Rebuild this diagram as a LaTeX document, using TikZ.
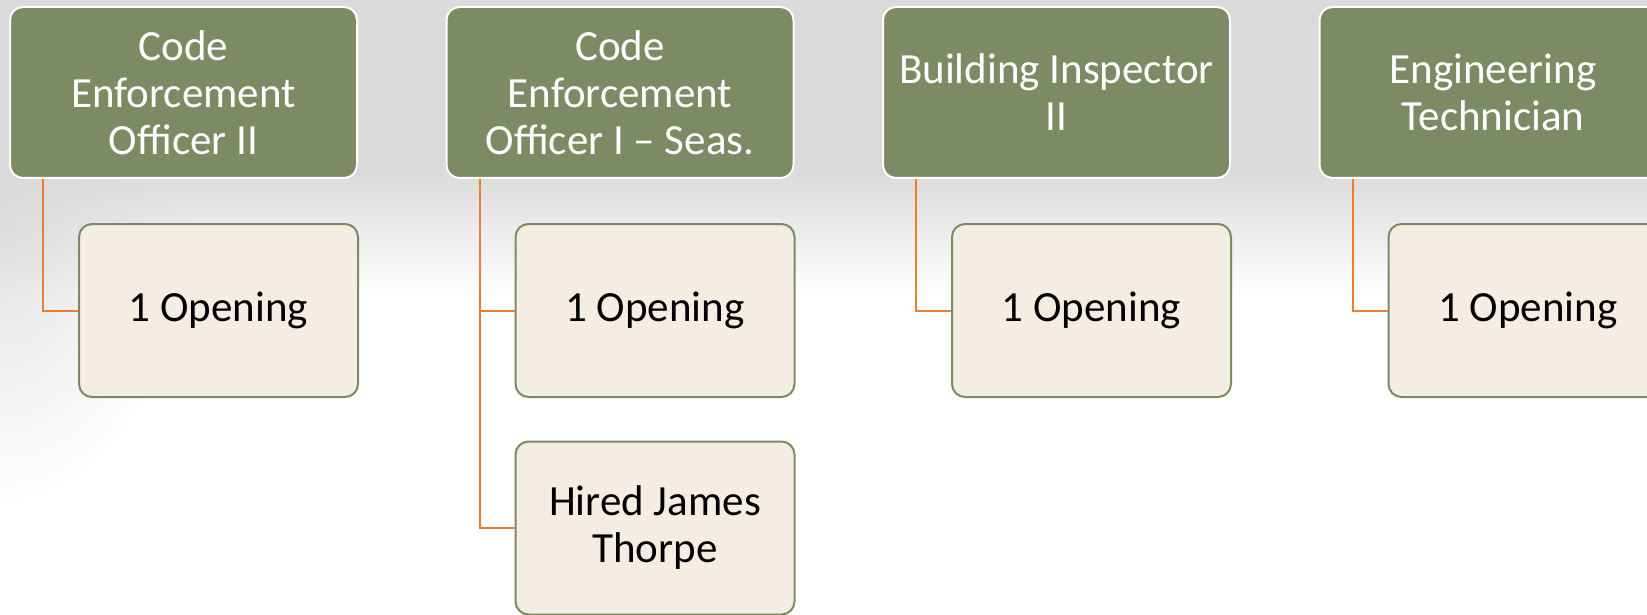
\documentclass[tikz,border=0pt]{standalone}
\usepackage{fontspec}
\setmainfont{Carlito}
\usetikzlibrary{fadings}
\definecolor{jobgreen}{HTML}{7D8B64}
\definecolor{openfill}{HTML}{F3EDE4}
\definecolor{linkorange}{HTML}{ED7D31}
\definecolor{slidegray}{HTML}{DADADA}
\tikzfading[name=softspot, inner color=transparent!0, outer color=transparent!100]
\begin{document}
\begin{tikzpicture}[x=1pt, y=-1pt,
					jobbox/.style = {draw=white, line width=2pt, fill=jobgreen, rounded corners=13pt, text=white,
						minimum width=347pt, minimum height=171pt, align=center, font=\fontsize{43}{47}\selectfont},
					openbox/.style = {draw=jobgreen, line width=2pt, fill=openfill, rounded corners=13pt,
						minimum width=279pt, minimum height=173pt, align=center, font=\fontsize{43}{47}\selectfont},
					linkline/.style = {draw=linkorange, line width=2pt}
				]
				\def\colstep{436.5}
				\useasboundingbox (0,0) rectangle (1647,615);
				% slide background
				\begin{scope}
					\clip (0,0) rectangle (1647,615);
					\fill[white] (0,0) rectangle (1647,615);
					\fill[slidegray] (0,0) rectangle (1647,170);
					\shade[top color=slidegray, bottom color=white] (0,169) rectangle (1647,295);
					\fill[slidegray, path fading=softspot, fill opacity=0.85] (0,200) ellipse (190 and 300);
				\end{scope}
				\node[jobbox] (job1) at (183.5,92.5) {Code\\Enforcement\\Officer II};
				\node[jobbox] (job2) at (183.5+\colstep,92.5) {Code\\Enforcement\\Officer I – Seas.};
				\node[jobbox] (job3) at (183.5+2*\colstep,92.5) {Building Inspector\\II};
				\node[jobbox] (job4) at (183.5+3*\colstep,92.5) {Engineering\\Technician};
				\node[openbox] (open1) at (218.5,310.5) {1 Opening};
				\node[openbox] (open2) at (218.5+\colstep,310.5) {1 Opening};
				\node[openbox] (hired2) at (218.5+\colstep,528) {Hired James\\Thorpe};
				\node[openbox] (open3) at (218.5+2*\colstep,310.5) {1 Opening};
				\node[openbox] (open4) at (218.5+3*\colstep,310.5) {1 Opening};
				\draw[linkline] ([xshift=34pt]job1.south west) |- (open1);
				\draw[linkline] ([xshift=34pt]job2.south west) |- (open2);
				\draw[linkline] ([xshift=34pt]job2.south west) |- (hired2);
				\draw[linkline] ([xshift=34pt]job3.south west) |- (open3);
				\draw[linkline] ([xshift=34pt]job4.south west) |- (open4);
			\end{tikzpicture}
\end{document}
